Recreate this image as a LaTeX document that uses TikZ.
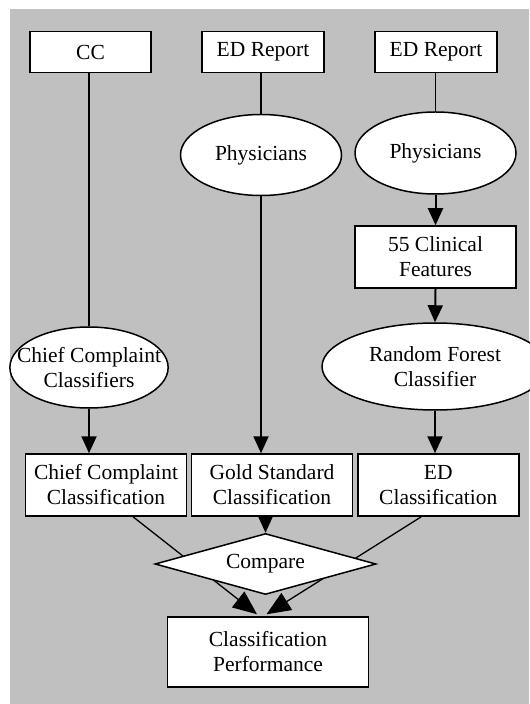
\documentclass[tikz,border=0pt]{standalone}
\usepackage{fontspec}
\setmainfont{Liberation Serif}
\usepackage{xcolor}
\usetikzlibrary{arrows.meta, shapes.geometric}

\definecolor{bggray}{RGB}{192,192,192}

\begin{document}
\begin{tikzpicture}[x=0.5pt, y=-0.5pt,
        every node/.style={font=\fontsize{10.75}{12.5}\selectfont, align=center, inner sep=0pt},
        box/.style={draw, fill=white, line width=0.75pt, minimum width=#1, minimum height=31pt},
        box/.default=80.5pt,
        oval/.style={draw, fill=white, ellipse, line width=0.75pt},
        flow/.style={line width=1pt, -{Triangle[width=7.5pt,length=8.5pt]}},
        merge/.style={line width=0.65pt, -{Triangle[width=10pt,length=12pt]}}]

        \useasboundingbox (0,0) rectangle (529,704);
        \fill[bggray] (10,9) rectangle (529,704);

        % sources
        \node[box=60.5pt, minimum height=20.5pt] (cc) at (90.5,52) {CC};
        \node[box=61pt, minimum height=20.5pt] (rep1) at (263,52) {ED Report};
        \node[box=61pt, minimum height=20.5pt] (rep2) at (436,52) {ED Report};

        \node[oval, minimum width=80.5pt, minimum height=40.5pt] (phys1) at (261,155) {Physicians};
        \node[oval, minimum width=80.5pt, minimum height=41pt] (phys2) at (435.5,153) {Physicians};

        \node[box] (feat) at (435.5,257) {55 Clinical\\Features};

        % classifiers
        \node[oval, inner xsep=-8pt, minimum width=79pt, minimum height=40.5pt] (ccls) at (89,367.5) {Chief Complaint\\Classifiers};
        \node[oval, minimum width=113pt, minimum height=43.5pt] (rf) at (435,366.5) {Random Forest\\Classifier};

        % classifications
        \node[box] (cccl) at (106,485) {Chief Complaint\\Classification};
        \node[box] (gold) at (272,485) {Gold Standard\\Classification};
        \node[box] (edcl) at (438.3,485) {ED\\Classification};

        \node[box=100.5pt, minimum height=35pt] (perf) at (268,652) {Classification\\Performance};

        \draw[line width=1pt] (cc.south -| ccls.north) -- (ccls.north);
        \draw[flow] (ccls.south) -- (ccls.south |- cccl.north);

        \draw[line width=1pt] (rep1.south -| phys1.north) -- (phys1.north);
        \draw[flow] (phys1.south) -- (phys1.south |- gold.north);

        \draw[line width=0.5pt] (rep2.south -| phys2.north) -- (phys2.north);
        \draw[flow] (phys2.south) -- (feat.north);
        \draw[flow] (feat.south) -- (rf.north);
        \draw[flow] (rf.south) -- (rf.south |- edcl.north);

        \draw[merge] ([xshift=13.5pt]cccl.south) -- ([xshift=-5.5pt, yshift=1pt]perf.north);
        \draw[merge] ([xshift=-8.5pt]edcl.south) -- ([xshift=-0.75pt, yshift=1pt]perf.north);

        \node[draw, fill=white, diamond, line width=0.75pt, aspect=3.6,
              minimum width=110.5pt, minimum height=30.5pt] (cmp) at (265.5,564) {Compare};
        \draw[flow] (gold.south -| cmp.north) -- (cmp.north);

\end{tikzpicture}
\end{document}
